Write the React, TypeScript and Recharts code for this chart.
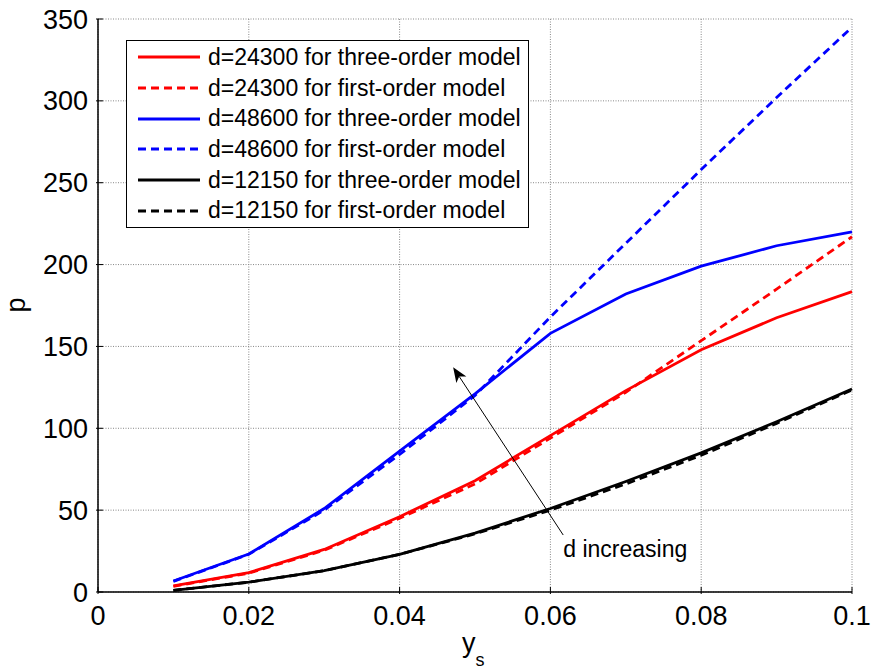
import { CartesianGrid, Line, LineChart, ReferenceDot, ReferenceLine, XAxis, YAxis } from 'recharts';

const X_VALUES = [0.01, 0.02, 0.03, 0.04, 0.05, 0.06, 0.07, 0.08, 0.09, 0.1];
const RED_THREE = [3.7, 11.8, 26, 46, 68, 95.5, 123, 148, 167.5, 183.5];
const RED_FIRST = [3.5, 11.5, 25.5, 45, 66, 94, 122, 153.5, 185, 217];
const BLUE_THREE = [6.7, 23.2, 51, 86, 121, 158, 182, 199, 211.5, 220];
const BLUE_FIRST = [6.5, 23, 50, 84, 120, 168, 213, 258, 302, 345];
const BLACK_THREE = [1, 6, 13, 23, 36, 51, 67.5, 85, 104, 124];
const BLACK_FIRST = [1, 6, 13, 23, 35.5, 50, 66, 83.5, 103, 123.5];

const X_TICKS = [0, 0.02, 0.04, 0.06, 0.08, 0.1];
const Y_TICKS = [0, 50, 100, 150, 200, 250, 300, 350];

const ARROW_FROM = { x: 0.0617, y: 34.8 };
const ARROW_TO = { x: 0.0471, y: 137.3 };
const NOTE_AT = { x: 0.0617, y: 21.4 };

const SERIES = [
  { key: 'red3', name: 'd=24300 for three-order model', color: '#ff0000', dashed: false, values: RED_THREE },
  { key: 'red1', name: 'd=24300 for first-order model', color: '#ff0000', dashed: true, values: RED_FIRST },
  { key: 'blue3', name: 'd=48600 for three-order model', color: '#0000ff', dashed: false, values: BLUE_THREE },
  { key: 'blue1', name: 'd=48600 for first-order model', color: '#0000ff', dashed: true, values: BLUE_FIRST },
  { key: 'black3', name: 'd=12150 for three-order model', color: '#000000', dashed: false, values: BLACK_THREE },
  { key: 'black1', name: 'd=12150 for first-order model', color: '#000000', dashed: true, values: BLACK_FIRST },
];

const data = X_VALUES.map((x, i) => {
  const row: Record<string, number> = { x };
  SERIES.forEach(s => { row[s.key] = s.values[i]; });
  return row;
});

const FONT = '"Liberation Sans", Arial, sans-serif';
const DASH = '8 5';

const BottomTick = ({ x, y, payload }: any) => (
  <g>
    <line x1={x} x2={x} y1={y} y2={y - 7} stroke="#000" />
    <text x={x} y={y + 31} textAnchor="middle" fontSize={27} fontFamily={FONT} fill="#000">{String(payload.value)}</text>
  </g>
);
const LeftTick = ({ x, y, payload }: any) => (
  <g>
    <line x1={x} x2={x + 7} y1={y} y2={y} stroke="#000" />
    <text x={x - 8} y={y + 9.5} textAnchor="end" fontSize={27} fontFamily={FONT} fill="#000">{String(payload.value)}</text>
  </g>
);
const TopTick = ({ x, y }: any) => <line x1={x} x2={x} y1={y} y2={y + 7} stroke="#000" />;
const RightTick = ({ x, y }: any) => <line x1={x} x2={x - 7} y1={y} y2={y} stroke="#000" />;

// arrow drawn between two data points, head at the second
const Arrow = ({ x1, y1, x2, y2 }: any) => {
  const a = Math.atan2(y2 - y1, x2 - x1);
  const L = 15, W = 6, N = 11;
  const p = (d: number, w: number) => `${x2 - d * Math.cos(a) - w * Math.sin(a)},${y2 - d * Math.sin(a) + w * Math.cos(a)}`;
  return (
    <g>
      <line x1={x1} y1={y1} x2={x2 - N * Math.cos(a)} y2={y2 - N * Math.sin(a)} stroke="#000" strokeWidth={1} />
      <polygon points={`${x2},${y2} ${p(L, W)} ${p(N, 0)} ${p(L, -W)}`} fill="#000" />
    </g>
  );
};

const Note = ({ cx, cy }: any) => (
  <text x={cx} y={cy} fontSize={23} fontFamily={FONT} fill="#000">d increasing</text>
);

function LegendBox() {
  return (
    <div style={{ position: 'absolute', left: 126, top: 40, width: 403, height: 188, border: '1.3px solid #000', background: '#fff', boxSizing: 'border-box', paddingTop: 1, fontFamily: FONT }}>
      {SERIES.map(s => (
        <div key={s.key} style={{ display: 'flex', alignItems: 'center', height: 30.7 }}>
          <svg width={62} height={6} style={{ marginLeft: 11, marginRight: 8 }}>
            <line x1={0} x2={62} y1={3} y2={3} stroke={s.color} strokeWidth={2.8} strokeDasharray={s.dashed ? DASH : undefined} />
          </svg>
          <span style={{ fontSize: 23, color: '#000', whiteSpace: 'nowrap' }}>{s.name}</span>
        </div>
      ))}
    </div>
  );
}

export default function App() {
  return (
    <div style={{ position: 'relative', width: 873, height: 671, background: '#fff' }}>
      <style>{'body{margin:0}'}</style>
      <LineChart width={873} height={671} data={data} margin={{ top: 19, right: 21, bottom: 0, left: 0 }}>
        <CartesianGrid stroke="#888" strokeDasharray="1 1.5" />
        <XAxis dataKey="x" type="number" domain={[0, 0.1]} ticks={X_TICKS} height={79} tickSize={0} tickLine={false}
          tick={<BottomTick />} axisLine={{ stroke: '#000', strokeWidth: 1.5 }} interval={0}
          label={{ content: () => (
            <text x={462} y={652} fontSize={27} fontFamily={FONT} fill="#000">y<tspan fontSize={18} dy={14}>s</tspan></text>
          ) }} />
        <XAxis xAxisId="top" orientation="top" type="number" domain={[0, 0.1]} ticks={X_TICKS} height={0} tickSize={0}
          tickLine={false} tick={<TopTick />} axisLine={{ stroke: '#000', strokeWidth: 1.5 }} interval={0} />
        <YAxis type="number" domain={[0, 350]} ticks={Y_TICKS} width={98} tickSize={0} tickLine={false}
          tick={<LeftTick />} axisLine={{ stroke: '#000', strokeWidth: 1.5 }} interval={0}
          label={{ content: () => (
            <text transform="translate(25,305) rotate(-90)" textAnchor="middle" fontSize={27} fontFamily={FONT} fill="#000">p</text>
          ) }} />
        <YAxis yAxisId="right" orientation="right" type="number" domain={[0, 350]} ticks={Y_TICKS} width={0} tickSize={0}
          tickLine={false} tick={<RightTick />} axisLine={{ stroke: '#000', strokeWidth: 1.5 }} interval={0} />
        {SERIES.map(s => (
          <Line key={s.key} type="linear" dataKey={s.key} stroke={s.color} strokeWidth={2.8}
            strokeDasharray={s.dashed ? DASH : undefined} dot={false} activeDot={false} isAnimationActive={false} />
        ))}
        <ReferenceLine segment={[ARROW_FROM, ARROW_TO]} shape={Arrow} />
        <ReferenceDot x={NOTE_AT.x} y={NOTE_AT.y} r={0} shape={Note} />
      </LineChart>
      <LegendBox />
    </div>
  );
}
